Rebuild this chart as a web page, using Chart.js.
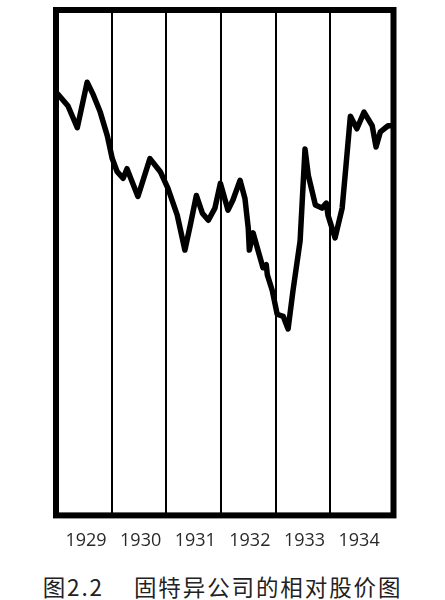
<!DOCTYPE html>
<html>
<head>
<meta charset="utf-8">
<script src="https://cdn.jsdelivr.net/npm/chart.js@4"></script>
<style>
  html, body { margin: 0; padding: 0; background: #fff; width: 445px; height: 600px; overflow: hidden; }
  #wrap { position: absolute; left: 0; top: 0; width: 445px; height: 567px; }
  #caption { position: absolute; left: 0; width: 445px; top: 573px; text-align: center;
    font-family: "Noto Sans CJK SC", "Noto Sans", sans-serif; font-size: 22.5px; color: #222;
    letter-spacing: 1.9px; line-height: 26px; white-space: nowrap; }
  #caption .gap { display: inline-block; width: 30px; }
</style>
</head>
<body>
<div id="wrap"><canvas id="c"></canvas></div>
<div id="caption">图2.2<span class="gap"></span>固特异公司的相对股价图</div>
<script>
// Time in fractional years, relative price index (arbitrary units 0-100)
const dates = [1929.02,1929.20,1929.37,1929.55,1929.66,1929.79,1929.92,1930.01,1930.10,1930.21,1930.28,1930.37,1930.48,1930.70,1930.89,
  1931.03,1931.20,1931.34,1931.44,1931.55,1931.66,1931.77,1931.89,1931.99,1932.13,1932.22,1932.35,1932.44,1932.50,1932.52,1932.59,
  1932.68,1932.77,1932.83,1932.85,1932.94,1933.03,1933.14,1933.23,1933.32,1933.45,1933.54,1933.60,1933.73,1933.85,1933.93,1933.96,
  1934.09,1934.22,1934.29,1934.37,1934.49,1934.62,1934.77,1934.84,1934.92,1935.06,1935.17];
const relPrice = [83.3,81.0,76.7,85.7,83.3,79.8,75.1,70.6,68.0,66.7,68.6,66.1,63.1,70.6,68.0,
  64.7,59.4,52.5,57.5,63.3,59.8,58.4,60.8,65.7,60.4,62.4,66.3,62.7,56.9,52.5,55.9,
  52.4,49.0,49.6,47.6,44.5,39.8,39.4,36.9,44.5,54.3,72.5,67.3,61.4,60.8,61.8,59.4,
  54.9,60.8,69.2,79.0,76.5,79.8,77.1,72.9,75.9,77.1,77.1];
const yearLabels = ['1929','1930','1931','1932','1933','1934'];
const yearStarts = [1929,1930,1931,1932,1933,1934];
const yearBounds = [1930,1931,1932,1933,1934];

const points = dates.map((d, i) => ({ x: d, y: relPrice[i] }));
const labelPos = yearStarts.map(y => y + 0.53);

const framePlugin = {
  id: 'frame',
  afterDraw(chart) {
    const a = chart.chartArea, ctx = chart.ctx;
    ctx.save();
    ctx.strokeStyle = '#000';
    ctx.lineWidth = 6;
    ctx.strokeRect(a.left, a.top, a.right - a.left, a.bottom - a.top);
    ctx.restore();
  }
};

new Chart(document.getElementById('c'), {
  type: 'line',
  data: { datasets: [{ data: points, borderColor: '#000', borderWidth: 5.5, pointRadius: 0,
    tension: 0, borderJoinStyle: 'round', borderCapStyle: 'round', fill: false }] },
  options: {
    responsive: true, maintainAspectRatio: false, animation: false,
    layout: { padding: { left: 56, right: 51.5, top: 10, bottom: 0 } },
    plugins: { legend: { display: false }, tooltip: { enabled: false } },
    scales: {
      x: {
        type: 'linear', min: 1928.98, max: 1935.16,
        afterBuildTicks(axis) {
          const t = [];
          yearBounds.forEach(v => t.push({ value: v }));
          labelPos.forEach(v => t.push({ value: v }));
          t.sort((a, b) => a.value - b.value);
          axis.ticks = t;
        },
        ticks: {
          autoSkip: false, maxRotation: 0, padding: 15, color: '#2a2a2a',
          font: { family: '"Open Sans", "Noto Sans", sans-serif', size: 18 },
          callback(value) {
            const i = labelPos.findIndex(p => Math.abs(p - value) < 1e-6);
            return i >= 0 ? yearLabels[i] : '';
          }
        },
        grid: {
          drawTicks: false,
          color(ctx) { return ctx.tick && yearBounds.includes(ctx.tick.value) ? '#000' : 'rgba(0,0,0,0)'; },
          lineWidth: 2
        },
        border: { display: false }
      },
      y: { display: false, min: 0, max: 100 }
    }
  },
  plugins: [framePlugin]
});
</script>
</body>
</html>
